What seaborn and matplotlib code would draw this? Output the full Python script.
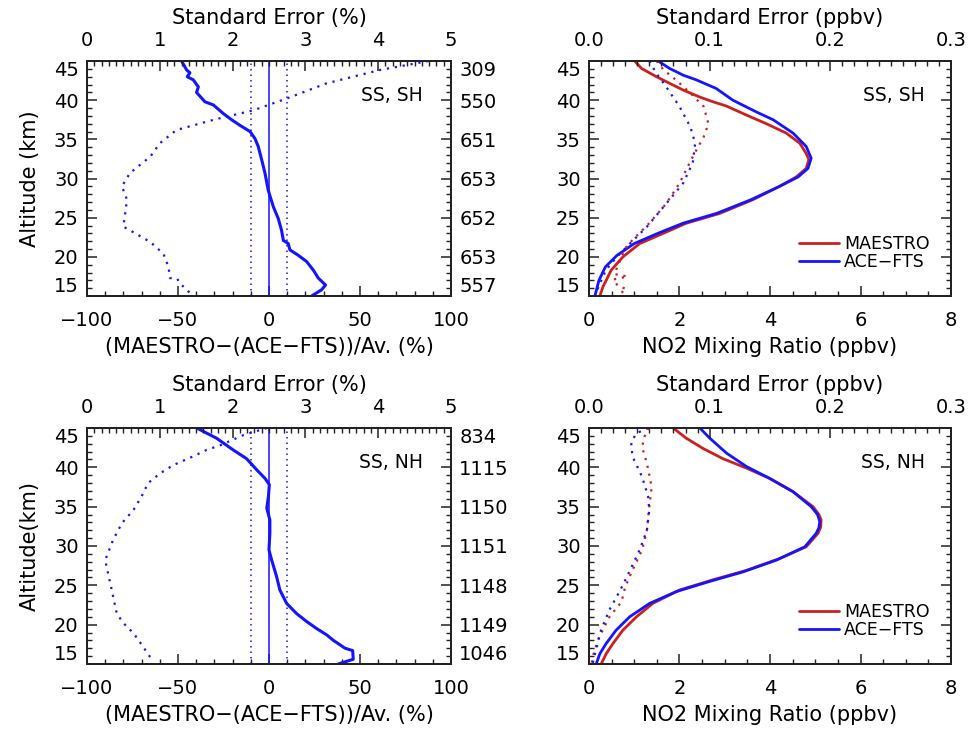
import matplotlib.pyplot as plt
import seaborn as sns
from matplotlib.ticker import MultipleLocator

# ---- data ----
# SS, SH : relative difference (%) and its standard error (%)
sh_diff_alt = [45.0, 43.85, 43.5, 43.0, 42.6, 41.7, 41.0, 39.8, 39.4, 38.3, 37.5, 36.8, 36.0, 35.1, 34.1,
               32.4, 30.7, 28.5, 26.4, 24.9, 23.4, 22.1, 21.7, 20.9, 20.2, 19.4, 18.3, 17.3, 16.4, 15.8, 15.0]
sh_diff = [-48, -45.2, -43.4, -44.9, -41.6, -38.8, -39.8, -35.2, -30.6, -25.1, -20.5, -16, -10.4, -7.7, -5.9,
           -4.0, -2.2, -0.4, 2.4, 5.1, 6.9, 7.9, 10.6, 11.5, 16.1, 20.7, 24.4, 27.1, 31.1, 28.9, 23.4]
sh_se_alt = [45.0, 43.85, 42.15, 40.2, 38.7, 37.5, 36.2, 34.5, 32.8, 30.7, 29.0, 27.3, 23.85, 23.4, 21.9,
             20.4, 18.7, 17.3, 17.2, 16.6, 15.0]
sh_se = [4.69, 4.02, 3.29, 2.74, 2.28, 1.74, 1.23, 1.00, 0.87, 0.59, 0.48, 0.55, 0.50, 0.59, 0.87,
         1.05, 1.12, 1.14, 1.24, 1.28, 1.46]
sh_counts = ['557', '653', '652', '653', '651', '550', '309']

# SS, NH
nh_diff_alt = [45.0, 43.7, 42.2, 41.1, 39.7, 38.6, 37.8, 36.3, 34.8, 33.3, 31.6, 29.5, 28.2, 26.1, 24.4,
               22.7, 21.4, 20.4, 19.5, 18.7, 18.0, 17.0, 16.7, 15.6, 15.0]
nh_diff = [-39.7, -28.8, -19.6, -12.3, -6.8, -2.2, 0.2, -0.3, -1.2, 0.5, 0.5, 0.0, 1.5, 4.2, 6.0,
           9.7, 15.2, 20.7, 26.2, 31.7, 35.4, 41.8, 46.0, 46.3, 38.1]
nh_se_alt = [45.0, 44.1, 42.8, 42.2, 41.4, 40.3, 39.2, 38.0, 36.3, 34.6, 32.9, 30.8, 28.2, 26.5, 24.4,
             21.4, 20.2, 18.9, 17.2, 15.3]
nh_se = [2.47, 2.15, 1.83, 1.64, 1.46, 1.19, 1.00, 0.84, 0.75, 0.64, 0.48, 0.36, 0.25, 0.29, 0.34,
         0.41, 0.50, 0.64, 0.77, 0.91]
nh_counts = ['1046', '1149', '1148', '1151', '1150', '1115', '834']

# NO2 mean profiles (ppbv), SS SH
sh_mae_alt = [45.0, 44.06, 43.0, 42.36, 41.3, 40.4, 39.8, 39.25, 38.1, 37.0, 35.8, 34.5, 33.2, 32.4, 31.3,
              30.2, 29.0, 27.3, 25.55, 24.3, 23.0, 21.7, 20.0, 18.3, 17.0, 16.2, 15.0]
sh_mae = [1.01, 1.16, 1.49, 1.71, 2.08, 2.45, 2.74, 3.04, 3.48, 3.92, 4.36, 4.66, 4.80, 4.86, 4.80,
          4.58, 4.21, 3.62, 2.89, 2.15, 1.64, 1.12, 0.75, 0.49, 0.38, 0.31, 0.24]
sh_ace_alt = [45.0, 44.06, 43.2, 42.6, 41.5, 40.0, 38.5, 37.5, 35.8, 34.1, 32.6, 31.3, 30.2, 29.0, 27.3,
              25.55, 24.3, 23.0, 21.7, 20.2, 18.7, 17.0, 15.0]
sh_ace = [1.53, 1.78, 2.08, 2.37, 2.81, 3.18, 3.70, 4.07, 4.51, 4.80, 4.91, 4.84, 4.62, 4.21, 3.58,
          2.82, 2.08, 1.52, 1.00, 0.62, 0.36, 0.22, 0.13]
sh_mae_se_alt = [45.0, 43.85, 42.6, 40.9, 39.2, 37.0, 35.3, 32.8, 29.4, 26.8, 24.3, 22.15, 21.1, 17.8,
                 17.5, 17.1, 16.3, 15.9, 15.1]
sh_mae_se = [0.056, 0.062, 0.072, 0.084, 0.095, 0.099, 0.095, 0.086, 0.075, 0.064, 0.050, 0.036, 0.030,
             0.021, 0.032, 0.020, 0.024, 0.031, 0.024]
sh_ace_se_alt = [45.0, 43.4, 41.7, 39.2, 36.6, 34.5, 32.0, 29.4, 26.8, 23.85, 21.7, 20.0, 18.3, 16.6, 15.0]
sh_ace_se = [0.050, 0.056, 0.064, 0.075, 0.084, 0.088, 0.086, 0.078, 0.064, 0.048, 0.034, 0.023, 0.014,
             0.009, 0.005]

# SS NH
nh_mae_alt = [45.0, 43.7, 42.4, 41.1, 39.9, 38.6, 36.9, 35.0, 34.0, 33.3, 32.4, 31.6, 29.9, 28.4, 26.9,
              25.7, 24.4, 22.7, 21.0, 19.3, 17.6, 16.3, 15.0]
nh_mae = [1.86, 2.15, 2.52, 2.96, 3.48, 3.99, 4.51, 4.95, 5.08, 5.13, 5.12, 5.06, 4.80, 4.21, 3.48,
          2.74, 2.00, 1.41, 1.05, 0.75, 0.53, 0.38, 0.27]
nh_ace_alt = [45.0, 43.7, 41.8, 40.1, 38.6, 36.9, 35.0, 34.0, 33.1, 32.3, 31.6, 29.9, 28.2, 26.7, 25.5,
              24.2, 22.7, 21.0, 19.3, 17.6, 16.3, 15.0]
nh_ace = [2.45, 2.67, 3.04, 3.48, 3.99, 4.51, 4.91, 5.05, 5.10, 5.08, 5.02, 4.77, 4.14, 3.40, 2.67,
          1.93, 1.34, 0.90, 0.60, 0.38, 0.24, 0.16]
nh_mae_se_alt = [45.0, 43.9, 42.6, 40.5, 37.5, 35.0, 32.0, 29.5, 26.9, 24.8, 22.9, 21.0, 18.1, 16.1, 15.0]
nh_mae_se = [0.050, 0.046, 0.044, 0.048, 0.052, 0.050, 0.048, 0.044, 0.036, 0.030, 0.027, 0.017, 0.0075,
             0.0034, 0.002]
nh_ace_se_alt = [45.0, 44.3, 43.1, 41.4, 38.8, 36.3, 34.6, 32.0, 29.5, 26.9, 24.4, 21.9, 19.3, 16.3, 15.0]
nh_ace_se = [0.049, 0.039, 0.035, 0.036, 0.044, 0.049, 0.050, 0.048, 0.042, 0.034, 0.026, 0.017, 0.010,
             0.005, 0.003]

alt_ticks = [15, 20, 25, 30, 35, 40, 45]
ref_lines = [-10, 0, 10]

BLUE = '#1414ff'
RED = '#cc2020'
DOT = (0, (1, 2.6))

sns.set_theme(style='white')
plt.rcParams['font.family'] = ['DejaVu Sans']
plt.rcParams['axes.edgecolor'] = '#222222'
plt.rcParams['axes.linewidth'] = 1.3
plt.rcParams['text.color'] = 'black'
plt.rcParams['axes.labelcolor'] = 'black'
plt.rcParams['xtick.color'] = 'black'
plt.rcParams['ytick.color'] = 'black'

fig = plt.figure(figsize=(9.74, 7.31), dpi=100)
ax_tl = fig.add_axes([0.0893, 0.595, 0.3737, 0.3215])
ax_tr = fig.add_axes([0.6047, 0.595, 0.3717, 0.3215])
ax_bl = fig.add_axes([0.0893, 0.0917, 0.3737, 0.3228])
ax_br = fig.add_axes([0.6047, 0.0917, 0.3717, 0.3228])

TICK_FS = 14
LAB_FS = 15


def ticks(ax, axis, pad=6):
    ax.tick_params(axis=axis, which='major', direction='in', length=7, width=1.1, color='#222222',
                   labelsize=TICK_FS, pad=pad, labelcolor='black')
    ax.tick_params(axis=axis, which='minor', direction='in', length=3.5, width=1.0, color='#222222')


def alt_axis(ax, labels, side):
    ax.set_ylim(15, 45)
    ax.set_yticks(alt_ticks)
    ax.set_yticklabels(labels)
    ax.yaxis.set_minor_locator(MultipleLocator(1))
    ticks(ax, 'y')
    if side == 'right':
        ax.tick_params(axis='y', which='both', left=False, right=True, labelleft=False, labelright=True)
    else:
        ax.tick_params(axis='y', which='both', left=True, right=True, labelright=False)
    lbls = ax.get_yticklabels()
    lbls[0].set_va('bottom')
    lbls[-1].set_va('top')


def diff_panel(ax, d_alt, d, se_alt, se, counts, tag, ylab):
    for v in ref_lines:
        ax.axvline(v, color=BLUE, lw=1.1, ls='-' if v == 0 else DOT)
    sns.lineplot(x=d, y=d_alt, ax=ax, sort=False, estimator=None, color=BLUE, lw=2.2)
    ax.set_xlim(-100, 100)
    ax.set_xticks([-100, -50, 0, 50, 100])
    ax.xaxis.set_minor_locator(MultipleLocator(10))
    ticks(ax, 'x', pad=11)
    ax.tick_params(axis='x', which='both', top=False)
    alt_axis(ax, [str(a) for a in alt_ticks], 'left')
    ax.tick_params(axis='y', which='both', right=False)
    ax.set_xlabel('(MAESTRO\u2212(ACE\u2212FTS))/Av. (%)', fontsize=LAB_FS, labelpad=5)
    ax.set_ylabel(ylab, fontsize=LAB_FS, labelpad=10)
    ax.text(0.923, 0.855, tag, transform=ax.transAxes, ha='right', va='center', fontsize=13.5)

    axr = ax.twinx()
    alt_axis(axr, counts, 'right')
    axr.grid(False)

    axt = ax.twiny()
    sns.lineplot(x=se, y=se_alt, ax=axt, sort=False, estimator=None, color=BLUE, lw=1.6, ls=DOT)
    axt.set_xlim(0, 5)
    axt.set_xticks([0, 1, 2, 3, 4, 5])
    axt.xaxis.set_minor_locator(MultipleLocator(0.1))
    ticks(axt, 'x', pad=8)
    axt.set_xlabel('Standard Error (%)', fontsize=LAB_FS, labelpad=5)
    axt.set_ylabel('')
    axt.grid(False)


def no2_panel(ax, m_alt, m, a_alt, a, mse_alt, mse, ase_alt, ase, tag):
    sns.lineplot(x=m, y=m_alt, ax=ax, sort=False, estimator=None, color=RED, lw=2.0, label='MAESTRO')
    sns.lineplot(x=a, y=a_alt, ax=ax, sort=False, estimator=None, color=BLUE, lw=2.0, label='ACE\u2212FTS')
    ax.set_xlim(0, 8)
    ax.set_xticks([0, 2, 4, 6, 8])
    ax.xaxis.set_minor_locator(MultipleLocator(0.5))
    ticks(ax, 'x', pad=11)
    ax.tick_params(axis='x', which='both', top=False)
    alt_axis(ax, [str(a_) for a_ in alt_ticks], 'left')
    ax.set_xlabel('NO2 Mixing Ratio (ppbv)', fontsize=LAB_FS, labelpad=5)
    ax.set_ylabel('')
    ax.text(0.928, 0.855, tag, transform=ax.transAxes, ha='right', va='center', fontsize=13.5)
    ax.legend(loc='lower right', bbox_to_anchor=(0.965, 0.07), frameon=False, fontsize=12.5,
              handlelength=2.3, handletextpad=0.3, labelspacing=0.0, borderpad=0)

    axt = ax.twiny()
    sns.lineplot(x=mse, y=mse_alt, ax=axt, sort=False, estimator=None, color=RED, lw=1.6, ls=DOT)
    sns.lineplot(x=ase, y=ase_alt, ax=axt, sort=False, estimator=None, color=BLUE, lw=1.6, ls=DOT)
    axt.set_xlim(0, 0.3)
    axt.set_xticks([0.0, 0.1, 0.2, 0.3])
    axt.set_xticklabels(['0.0', '0.1', '0.2', '0.3'])
    axt.xaxis.set_minor_locator(MultipleLocator(0.01))
    ticks(axt, 'x', pad=8)
    axt.set_xlabel('Standard Error (ppbv)', fontsize=LAB_FS, labelpad=5)
    axt.set_ylabel('')
    axt.grid(False)


diff_panel(ax_tl, sh_diff_alt, sh_diff, sh_se_alt, sh_se, sh_counts, 'SS, SH', 'Altitude (km)')
diff_panel(ax_bl, nh_diff_alt, nh_diff, nh_se_alt, nh_se, nh_counts, 'SS, NH', 'Altitude(km)')
no2_panel(ax_tr, sh_mae_alt, sh_mae, sh_ace_alt, sh_ace, sh_mae_se_alt, sh_mae_se,
          sh_ace_se_alt, sh_ace_se, 'SS, SH')
no2_panel(ax_br, nh_mae_alt, nh_mae, nh_ace_alt, nh_ace, nh_mae_se_alt, nh_mae_se,
          nh_ace_se_alt, nh_ace_se, 'SS, NH')

fig.savefig('out.png', dpi=100)
